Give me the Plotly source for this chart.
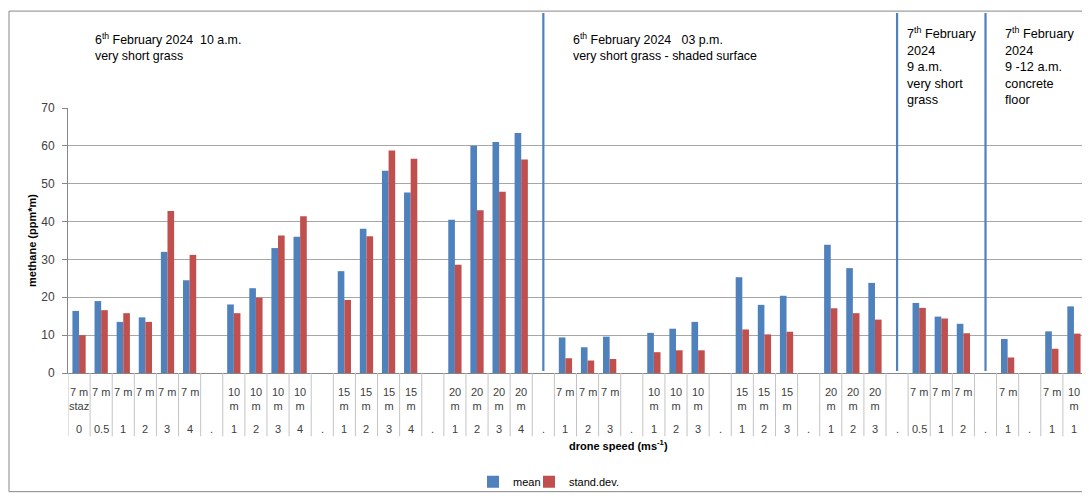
import plotly.graph_objects as go

# ---- data ----
names = (["7 m<br>staz", "7 m", "7 m", "7 m", "7 m", "7 m", "",
          "10<br>m", "10<br>m", "10<br>m", "10<br>m", "",
          "15<br>m", "15<br>m", "15<br>m", "15<br>m", "",
          "20<br>m", "20<br>m", "20<br>m", "20<br>m", "",
          "7 m", "7 m", "7 m", "",
          "10<br>m", "10<br>m", "10<br>m", "",
          "15<br>m", "15<br>m", "15<br>m", "",
          "20<br>m", "20<br>m", "20<br>m", "",
          "7 m", "7 m", "7 m", "",
          "7 m", "",
          "7 m", "10<br>m"])
speeds = (["0", "0.5", "1", "2", "3", "4", ".",
           "1", "2", "3", "4", ".",
           "1", "2", "3", "4", ".",
           "1", "2", "3", "4", ".",
           "1", "2", "3", ".",
           "1", "2", "3", ".",
           "1", "2", "3", ".",
           "1", "2", "3", ".",
           "0.5", "1", "2", ".",
           "1", ".",
           "1", "1"])
mean = [16.4, 19.0, 13.5, 14.7, 32.0, 24.5, None,
        18.1, 22.4, 33.0, 36.0, None,
        26.9, 38.1, 53.4, 47.7, None,
        40.5, 60.0, 61.0, 63.4, None,
        9.4, 6.8, 9.6, None,
        10.6, 11.7, 13.5, None,
        25.3, 18.0, 20.4, None,
        33.9, 27.7, 23.8, None,
        18.5, 14.9, 13.0, None,
        9.0, None,
        11.0, 17.6]
std = [10.0, 16.6, 15.8, 13.5, 42.8, 31.2, None,
       15.8, 19.9, 36.3, 41.4, None,
       19.3, 36.1, 58.8, 56.6, None,
       28.6, 43.0, 47.9, 56.4, None,
       3.9, 3.3, 3.7, None,
       5.5, 6.0, 6.0, None,
       11.5, 10.2, 10.9, None,
       17.1, 15.8, 14.1, None,
       17.2, 14.4, 10.5, None,
       4.1, None,
       6.4, 10.4]
separators = [21, 37, 41]
section_texts = [
    "6<sup>th</sup> February 2024  10 a.m.<br>very short grass",
    "6<sup>th</sup> February 2024   03 p.m.<br>very short grass - shaded surface",
    "7<sup>th</sup> February<br>2024<br>9 a.m.<br>very short<br>grass",
    "7<sup>th</sup> February<br>2024<br>9 -12 a.m.<br>concrete<br>floor",
]

x = list(range(len(names)))
FONT = "Liberation Sans"
BLUE = "#4F81BD"
RED = "#C0504D"

fig = go.Figure()
fig.add_trace(go.Bar(x=x, y=mean, name="mean", legend="legend",
                     marker=dict(color=BLUE, line=dict(width=0))))
fig.add_trace(go.Bar(x=x, y=std, name="stand.dev.", legend="legend2",
                     marker=dict(color=RED, line=dict(width=0))))

W, HT = 1090, 500
OFF = 8  # body margin of the page
# target plot area on screen (px)
PX0, PX1, PY0, PY1 = 68, 1085, 108, 376

L = PX0 - OFF
R = W - (PX1 - OFF)
T = PY0 - OFF
B = HT - (PY1 - OFF) - 2
H = PY1 - PY0
PW = PX1 - PX0

def py(p):
    return (PY1 - p) / H

def px(p):
    return (p - PX0) / PW

shapes = []
annotations = []
# tick dividers below the axis
for i in range(len(names) + 1):
    shapes.append(dict(type="line", xref="x", yref="paper", x0=i - 0.5, x1=i - 0.5,
                       y0=0, y1=py(440), line=dict(color="#C4C4C4", width=1)))
# section separators
for s in separators:
    shapes.append(dict(type="line", xref="x", yref="paper", x0=s, x1=s,
                       y0=py(374), y1=py(12), line=dict(color=BLUE, width=2.2)))
# outer border
shapes.append(dict(type="rect", xref="paper", yref="paper",
                   x0=px(9), x1=px(1087), y0=py(496), y1=py(10),
                   line=dict(color="#868686", width=1)))

for i, (n, s) in enumerate(zip(names, speeds)):
    if n:
        annotations.append(dict(x=i, y=py(387), xref="x", yref="paper", text=n,
                                showarrow=False, yanchor="top", xanchor="center",
                                font=dict(family=FONT, size=11, color="#404040")))
    annotations.append(dict(x=i, y=py(433), xref="x", yref="paper", text=s,
                            showarrow=False, yanchor="middle", xanchor="center",
                            font=dict(family=FONT, size=11, color="#404040")))

sec_pos = [(93, 28, 12.4), (571, 28, 12.4), (905, 22, 12.7), (1003, 22, 12.7)]
for (sx, sy, fs), txt in zip(sec_pos, section_texts):
    annotations.append(dict(x=px(sx), y=py(sy), xref="paper", yref="paper", text=txt,
                            showarrow=False, yanchor="top", xanchor="left", align="left",
                            font=dict(family=FONT, size=fs, color="black")))

annotations.append(dict(x=px(618), y=py(458), xref="paper", yref="paper",
                        text="<b>drone speed (ms<sup>-1</sup>)</b>", showarrow=False,
                        font=dict(family=FONT, size=11, color="black")))

leg_common = dict(orientation="h", yanchor="middle", y=py(486), xanchor="left",
                  font=dict(family=FONT, size=11, color="black"), itemwidth=30,
                  bgcolor="rgba(0,0,0,0)")
fig.update_layout(
    width=W, height=HT,
    margin=dict(l=L, r=R, t=T, b=B),
    paper_bgcolor="white", plot_bgcolor="white",
    barmode="group", bargap=0.4, bargroupgap=0,
    font=dict(family=FONT, size=12, color="#404040"),
    shapes=shapes, annotations=annotations,
    legend=dict(x=px(473), **leg_common),
    legend2=dict(x=px(529), **leg_common),
    showlegend=True,
)
fig.update_xaxes(range=[-0.5, len(names) - 0.5], showticklabels=False, showgrid=False,
                 showline=True, linecolor="#868686", linewidth=1, ticks="", zeroline=False)
fig.update_yaxes(range=[0, 70], dtick=10, showgrid=True, gridcolor="#A6A6A6", gridwidth=1,
                 showline=True, linecolor="#868686", ticks="outside", ticklen=5,
                 tickcolor="#868686", zeroline=False, ticklabelstandoff=5,
                 tickfont=dict(family=FONT, size=12, color="#404040"),
                 title=dict(text="<b>methane (ppm*m)</b>", standoff=2,
                            font=dict(family=FONT, size=11, color="black")))

fig.write_html("out.html")
